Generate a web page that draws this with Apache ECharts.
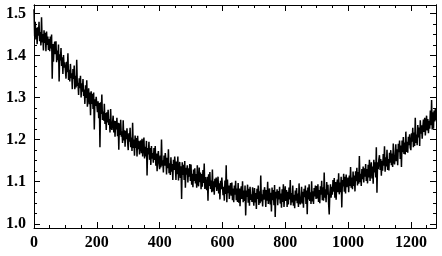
<!DOCTYPE html>
<html>
<head>
<meta charset="utf-8">
<script src="https://cdn.jsdelivr.net/npm/echarts@6/dist/echarts.min.js"></script>
<style>
html, body { margin: 0; padding: 0; background: #fff; }
#main { width: 442px; height: 256px; }
</style>
</head>
<body>
<div id="main"></div>
<script>
// one sample every 2 units along x (0 .. 1280), 25 samples per row
var xStep = 2;
var yValues = [
    1.510,1.446,1.480,1.438,1.466, 1.427,1.467,1.447,1.480,1.434, 1.456,1.424,1.491,1.431,1.451, 1.412,1.460,1.430,1.454,1.410, 1.457,1.425,1.445,1.413,1.439,
    1.410,1.445,1.417,1.450,1.345, 1.427,1.385,1.420,1.433,1.403, 1.434,1.384,1.412,1.389,1.426, 1.338,1.403,1.388,1.418,1.375, 1.396,1.356,1.401,1.371,1.384,
    1.380,1.345,1.385,1.360,1.405, 1.342,1.366,1.338,1.380,1.346, 1.358,1.320,1.368,1.344,1.376, 1.320,1.352,1.324,1.390,1.328, 1.335,1.306,1.346,1.322,1.352,
    1.300,1.334,1.314,1.344,1.304, 1.319,1.285,1.329,1.299,1.341, 1.278,1.306,1.322,1.284,1.312, 1.258,1.315,1.285,1.309,1.273, 1.312,1.224,1.296,1.280,1.302,
    1.300,1.265,1.291,1.251,1.287, 1.182,1.289,1.261,1.307,1.247, 1.267,1.245,1.285,1.237,1.263, 1.223,1.265,1.241,1.271,1.235, 1.249,1.217,1.273,1.231,1.223,
    1.227,1.257,1.217,1.245,1.207, 1.244,1.224,1.252,1.208,1.240, 1.176,1.239,1.211,1.247,1.207, 1.220,1.192,1.246,1.198,1.222, 1.183,1.221,1.201,1.227,1.195,
    1.175,1.215,1.195,1.228,1.182, 1.205,1.173,1.240,1.180,1.200, 1.162,1.210,1.180,1.204,1.160, 1.209,1.177,1.197,1.165,1.191, 1.198,1.168,1.202,1.160,1.188,
    1.205,1.155,1.183,1.160,1.197, 1.115,1.180,1.165,1.195,1.152, 1.180,1.140,1.185,1.155,1.168, 1.145,1.180,1.152,1.185,1.138, 1.167,1.125,1.160,1.173,1.143,
    1.130,1.162,1.134,1.200,1.138, 1.151,1.122,1.162,1.138,1.168, 1.152,1.117,1.157,1.132,1.177, 1.120,1.144,1.116,1.158,1.124, 1.142,1.104,1.152,1.128,1.160,
    1.138,1.104,1.148,1.118,1.160, 1.103,1.131,1.147,1.109,1.137, 1.059,1.146,1.116,1.140,1.104, 1.149,1.086,1.133,1.117,1.139, 1.098,1.132,1.112,1.142,1.102,
    1.141,1.093,1.119,1.087,1.129, 1.102,1.132,1.096,1.118,1.086, 1.139,1.097,1.089,1.134,1.099, 1.122,1.082,1.118,1.088,1.128, 1.097,1.143,1.083,1.111,1.089,
    1.080,1.112,1.055,1.118,1.090, 1.123,1.083,1.103,1.075,1.129, 1.077,1.101,1.069,1.107,1.087, 1.110,1.078,1.082,1.112,1.072, 1.096,1.058,1.102,1.082,1.110,
    1.108,1.068,1.088,1.055,1.103, 1.071,1.139,1.051,1.105,1.073, 1.091,1.059,1.085,1.097,1.067, 1.098,1.056,1.084,1.051,1.091, 1.069,1.102,1.056,1.084,1.052,
    1.097,1.050,1.084,1.042,1.077, 1.089,1.059,1.101,1.051,1.079, 1.054,1.091,1.020,1.079,1.064, 1.093,1.050,1.083,1.043,1.088, 1.057,1.070,1.052,1.087,1.059,
    1.043,1.085,1.051,1.073,1.035, 1.083,1.059,1.091,1.045,1.077, 1.049,1.115,1.053,1.070,1.041, 1.081,1.057,1.087,1.075,1.040, 1.080,1.055,1.100,1.047,1.071,
    1.084,1.046,1.074,1.029,1.086, 1.056,1.080,1.044,1.092,1.016, 1.076,1.060,1.082,1.044,1.078, 1.058,1.088,1.048,1.072,1.038, 1.082,1.052,1.094,1.040,1.068,
    1.089,1.054,1.080,1.040,1.076, 1.046,1.086,1.058,1.104,1.044, 1.073,1.051,1.091,1.043,1.069, 1.037,1.079,1.055,1.085,1.049, 1.072,1.040,1.096,1.054,1.046,
    1.058,1.088,1.048,1.076,1.038, 1.083,1.063,1.091,1.047,1.079, 1.023,1.086,1.058,1.094,1.054, 1.075,1.047,1.101,1.053,1.077, 1.047,1.085,1.065,1.091,1.059,
    1.090,1.060,1.094,1.052,1.080, 1.049,1.089,1.069,1.102,1.056, 1.087,1.055,1.122,1.062,1.082, 1.051,1.099,1.069,1.093,1.049, 1.022,1.074,1.094,1.062,1.088,
    1.069,1.104,1.076,1.109,1.062, 1.099,1.057,1.092,1.105,1.075, 1.120,1.070,1.098,1.075,1.112, 1.039,1.104,1.089,1.119,1.076, 1.112,1.072,1.117,1.087,1.100,
    1.110,1.075,1.115,1.090,1.135, 1.086,1.110,1.082,1.124,1.090, 1.115,1.077,1.125,1.101,1.133, 1.091,1.123,1.095,1.161,1.099, 1.119,1.090,1.130,1.106,1.136,
    1.098,1.132,1.112,1.142,1.102, 1.130,1.096,1.140,1.110,1.152, 1.102,1.130,1.146,1.108,1.136, 1.095,1.152,1.122,1.146,1.110, 1.182,1.074,1.146,1.130,1.152,
    1.163,1.128,1.154,1.114,1.150, 1.126,1.166,1.138,1.184,1.124, 1.158,1.136,1.176,1.128,1.154, 1.127,1.169,1.145,1.175,1.139, 1.167,1.135,1.191,1.149,1.141,
    1.159,1.189,1.149,1.177,1.139, 1.190,1.170,1.198,1.154,1.186, 1.135,1.198,1.170,1.206,1.166, 1.193,1.165,1.219,1.171,1.195, 1.169,1.207,1.187,1.213,1.181,
    1.175,1.215,1.195,1.228,1.182, 1.217,1.185,1.252,1.192,1.212, 1.187,1.235,1.205,1.229,1.185, 1.246,1.214,1.234,1.202,1.228, 1.248,1.218,1.252,1.210,1.238,
    1.257,1.222,1.249,1.215,1.245, 1.226,1.269,1.234,1.294,1.224, 1.265,1.226,1.269,1.243,1.275, 1.246
];
var yMajor = [1.0, 1.1, 1.2, 1.3, 1.4, 1.5];
var yMinor = [1.025, 1.05, 1.075, 1.125, 1.15, 1.175, 1.225, 1.25, 1.275,
              1.325, 1.35, 1.375, 1.425, 1.45, 1.475];

var font = {
    fontFamily: 'Liberation Serif',
    fontWeight: 'bold',
    fontSize: 16,
    color: '#000'
};
var black = { color: '#000', width: 1 };

function makeX(pos, labels) {
    return {
        type: 'value',
        position: pos,
        min: 0,
        max: 1280,
        interval: 200,
        axisLine: { show: true, onZero: false, lineStyle: black },
        axisTick: { show: true, inside: true, length: 6, lineStyle: black },
        minorTick: { show: true, splitNumber: 4, length: 3, lineStyle: black },
        axisLabel: Object.assign({
            show: labels,
            margin: 7,
            formatter: function (v) { return String(v); }
        }, font),
        splitLine: { show: false },
        minorSplitLine: { show: false }
    };
}

function makeY(pos, ticks, len, labels) {
    return {
        type: 'value',
        position: pos,
        min: 0.99,
        max: 1.52,
        axisLine: { show: true, onZero: false, lineStyle: black },
        axisTick: { show: true, inside: true, length: len, customValues: ticks, lineStyle: black },
        axisLabel: Object.assign({
            show: labels,
            margin: 8,
            customValues: ticks,
            formatter: function (v) { return v.toFixed(1); }
        }, font),
        splitLine: { show: false }
    };
}

var chart = echarts.init(document.getElementById('main'));
chart.setOption({
    backgroundColor: '#fff',
    animation: false,
    grid: { left: 34, right: 6, top: 5, bottom: 28 },
    xAxis: [makeX('bottom', true), makeX('top', false)],
    yAxis: [
        makeY('left', yMajor, 6, true),
        makeY('left', yMinor, 3, false),
        makeY('right', yMajor, 6, false),
        makeY('right', yMinor, 3, false)
    ],
    series: [{
        type: 'line',
        xAxisIndex: 0,
        yAxisIndex: 0,
        showSymbol: false,
        sampling: null,
        lineStyle: { color: '#000', width: 1.5 },
        data: yValues.map(function (v, i) { return [i * xStep, v]; })
    }]
});
</script>
</body>
</html>
